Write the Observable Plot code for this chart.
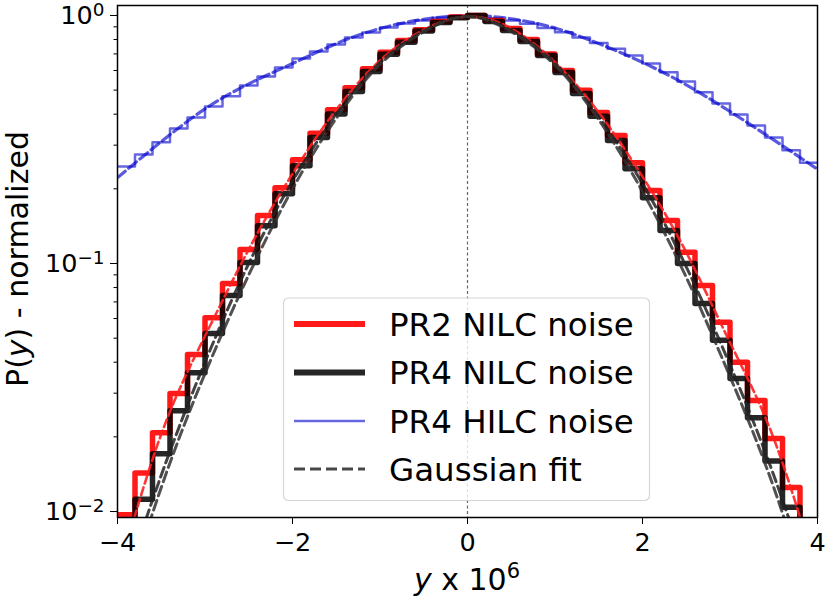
<!DOCTYPE html>
<html>
<head>
<meta charset="utf-8">
<script src="https://cdn.jsdelivr.net/npm/d3@7"></script>
<script src="https://cdn.jsdelivr.net/npm/@observablehq/plot@0.6"></script>
<style>
  html, body { margin: 0; padding: 0; background: #fff; }
  #chart svg { display: block; font-family: "DejaVu Sans", sans-serif; }
</style>
</head>
<body>
<div id="chart"></div>
<script>
// ---- data ----
const binEdges = [-4.0, -3.8, -3.6, -3.4, -3.2, -3.0, -2.8, -2.6, -2.4, -2.2,
                  -2.0, -1.8, -1.6, -1.4, -1.2, -1.0, -0.8, -0.6, -0.4, -0.2,
                   0.0,  0.2,  0.4,  0.6,  0.8,  1.0,  1.2,  1.4,  1.6,  1.8,
                   2.0,  2.2,  2.4,  2.6,  2.8,  3.0,  3.2,  3.4,  3.6,  3.8, 4.0];

const pr2Nilc = [0.0097, 0.0143, 0.0208, 0.0299, 0.043, 0.0605, 0.083, 0.114, 0.156, 0.202,
                 0.262, 0.335, 0.417, 0.511, 0.610, 0.711, 0.793, 0.875, 0.946, 0.985,
                 1.0, 0.955, 0.886, 0.80, 0.70, 0.60, 0.50, 0.406, 0.328, 0.255,
                 0.197, 0.149, 0.111, 0.0815, 0.058, 0.040, 0.028, 0.0197, 0.0125, 0.0085];

const pr4Nilc = [0.0085, 0.0112, 0.0171, 0.0255, 0.0363, 0.0522, 0.0743, 0.101, 0.142, 0.191,
                 0.248, 0.322, 0.401, 0.494, 0.595, 0.697, 0.78, 0.865, 0.937, 0.98,
                 1.0, 0.946, 0.87, 0.786, 0.69, 0.589, 0.485, 0.392, 0.313, 0.241,
                 0.184, 0.136, 0.100, 0.069, 0.049, 0.0344, 0.0239, 0.016, 0.0104, 0.0085];

const pr4Hilc = [0.246, 0.275, 0.308, 0.35, 0.388, 0.43, 0.472, 0.522, 0.567, 0.617,
                 0.67, 0.716, 0.764, 0.815, 0.854, 0.895, 0.928, 0.955, 0.98, 0.99,
                 0.99, 0.975, 0.955, 0.925, 0.89, 0.855, 0.815, 0.775, 0.735, 0.69,
                 0.64, 0.59, 0.542, 0.49, 0.442, 0.399, 0.36, 0.322, 0.286, 0.255];

// dashed fit curves, sampled every 0.5
const fitX    = [-4, -3.5, -3, -2.5, -2, -1.5, -1, -0.5, 0, 0.5, 1, 1.5, 2, 2.5, 3, 3.5, 4];
const fitPr2  = [0.0055, 0.0205, 0.051, 0.114, 0.23, 0.417, 0.658, 0.875, 0.99, 0.886, 0.648, 0.406, 0.224, 0.111, 0.048, 0.0197, 0.0055];
const fitPr4  = [0.0042, 0.014, 0.040, 0.100, 0.215, 0.400, 0.645, 0.865, 0.99, 0.870, 0.640, 0.390, 0.210, 0.097, 0.039, 0.014, 0.0042];
const fitPr4b = [0.0035, 0.0125, 0.036, 0.090, 0.200, 0.385, 0.635, 0.860, 0.99, 0.860, 0.630, 0.380, 0.195, 0.088, 0.035, 0.0125, 0.0035];
const fitHilc = [0.222, 0.31, 0.42, 0.53, 0.64, 0.77, 0.886, 0.965, 1.0, 0.97, 0.89, 0.77, 0.647, 0.525, 0.41, 0.315, 0.24];

const xTicks = [-4, -2, 0, 2, 4];
const yTicks = [0.01, 0.1, 1];
const yTickExp = ["−2", "−1", "0"];
const yMinor = [0.02, 0.03, 0.04, 0.05, 0.06, 0.07, 0.08, 0.09, 0.2, 0.3, 0.4, 0.5, 0.6, 0.7, 0.8, 0.9];
const yDomain = [0.00946, 1.097];

const legendItems = [
  {label: "PR2 NILC noise", stroke: "#ff0000", width: 6, dash: null, opacity: 0.9},
  {label: "PR4 NILC noise", stroke: "#000000", width: 6, dash: null, opacity: 0.85},
  {label: "PR4 HILC noise", stroke: "#0000cd", width: 2.5, dash: null, opacity: 0.6},
  {label: "Gaussian fit", stroke: "#333333", width: 3, dash: "11,5", opacity: 0.9}
];

// ---- tables ----
const stepRows = vals => binEdges.map((e, i) => ({x: e, v: vals[Math.min(i, vals.length - 1)]}));
const fitRows = vals => fitX.map((x, i) => ({x, v: vals[i]}));

const chart = Plot.plot({
  width: 831,
  height: 598,
  marginLeft: 117,
  marginRight: 14,
  marginTop: 5,
  marginBottom: 81,
  style: {fontFamily: "DejaVu Sans, sans-serif", background: "#fff", overflow: "visible"},
  x: {domain: [-4, 4]},
  y: {type: "log", domain: yDomain},
  marks: [
    Plot.ruleX([0], {stroke: "#666", strokeWidth: 1.2, strokeDasharray: "3,2.5"}),
    Plot.line(stepRows(pr4Hilc), {x: "x", y: "v", curve: "step-after", stroke: "#0000cd", strokeOpacity: 0.6, strokeWidth: 2.5, clip: true}),
    Plot.line(fitRows(fitHilc), {x: "x", y: "v", curve: "natural", stroke: "#0000cd", strokeOpacity: 0.65, strokeWidth: 3.2, strokeDasharray: "10,4.5", clip: true}),
    Plot.line(stepRows(pr2Nilc), {x: "x", y: "v", curve: "step-after", stroke: "#ff0000", strokeOpacity: 0.9, strokeWidth: 5.5, clip: true}),
    Plot.line(stepRows(pr4Nilc), {x: "x", y: "v", curve: "step-after", stroke: "#000000", strokeOpacity: 0.85, strokeWidth: 5.5, clip: true}),
    Plot.line(fitRows(fitPr2), {x: "x", y: "v", curve: "natural", stroke: "#ff2020", strokeOpacity: 0.9, strokeWidth: 2.6, strokeDasharray: "8,4", clip: true}),
    Plot.line(fitRows(fitPr4), {x: "x", y: "v", curve: "natural", stroke: "#222", strokeOpacity: 0.85, strokeWidth: 3, strokeDasharray: "10,5", clip: true}),
    Plot.line(fitRows(fitPr4b), {x: "x", y: "v", curve: "natural", stroke: "#333", strokeOpacity: 0.85, strokeWidth: 3, strokeDasharray: "10,5", clip: true}),
    Plot.frame({stroke: "#000", strokeWidth: 1.5}),
    Plot.axisX(xTicks, {tickSize: 7, tickPadding: 8.5, fontSize: 25.5, label: null,
      tickFormat: d => d < 0 ? "−" + Math.abs(d) : String(d)}),
    Plot.axisY(yMinor, {tickSize: 3.5, tickFormat: () => "", label: null}),
    Plot.axisY(yTicks, {tickSize: 7, tickPadding: 6, fontSize: 25.5, label: null,
      tickFormat: d => yTickExp[yTicks.indexOf(d)]})
  ]
});

const svg = d3.select(chart);

// superscript exponents on log tick labels (major ticks only)
svg.selectAll('g[aria-label="y-axis tick label"] text').each(function() {
  const exp = this.textContent;
  if (!exp) { this.remove(); return; }
  const t = d3.select(this);
  t.text("");
  t.append("tspan").text("10");
  t.append("tspan").attr("dy", "-0.43em").attr("font-size", "0.72em").text(exp);
});

// axis labels
const xl = svg.append("text")
  .attr("x", 467).attr("y", 590)
  .attr("text-anchor", "middle")
  .attr("font-size", 30)
  .attr("fill", "#000");
xl.append("tspan").attr("font-style", "italic").text("y");
xl.append("tspan").text(" x 10");
xl.append("tspan").attr("dy", "-0.55em").attr("font-size", "0.7em").text("6");

const yl = svg.append("text")
  .attr("transform", "translate(28,259) rotate(-90)")
  .attr("text-anchor", "middle")
  .attr("font-size", 30)
  .attr("fill", "#000");
yl.append("tspan").text("P(");
yl.append("tspan").attr("font-style", "italic").text("y");
yl.append("tspan").text(") - normalized");

// legend
const lg = svg.append("g").attr("text-anchor", "start");
lg.append("rect")
  .attr("x", 283.5).attr("y", 298).attr("width", 366).attr("height", 202.5)
  .attr("rx", 5).attr("fill", "#fff").attr("fill-opacity", 0.8)
  .attr("stroke", "#d6d6d6").attr("stroke-width", 1.2);
const rowY = [324, 372.5, 421, 469];
legendItems.forEach((it, i) => {
  const y = rowY[i];
  const ln = lg.append("line")
    .attr("x1", 294).attr("x2", 365).attr("y1", y).attr("y2", y)
    .attr("stroke", it.stroke).attr("stroke-width", it.width)
    .attr("stroke-opacity", it.opacity);
  if (it.dash) ln.attr("stroke-dasharray", it.dash);
  lg.append("text")
    .attr("x", 389).attr("y", y).attr("dy", "0.36em")
    .attr("text-anchor", "start")
    .attr("font-size", 32.5).attr("fill", "#000")
    .text(it.label);
});

document.getElementById("chart").appendChild(chart);
</script>
</body>
</html>
